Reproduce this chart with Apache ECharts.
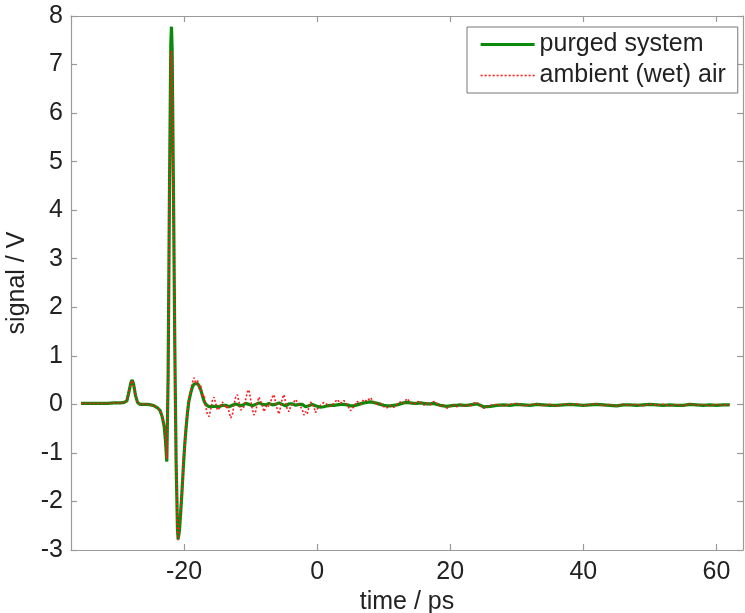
<!DOCTYPE html>
<html>
<head>
<meta charset="utf-8">
<script src="https://cdn.jsdelivr.net/npm/echarts@6/dist/echarts.min.js"></script>
<style>
  html, body { margin: 0; padding: 0; background: #fff; }
  #chart { width: 745px; height: 613px; }
</style>
</head>
<body>
<div id="chart"></div>
<script>
// time axis (ps), non-uniform sampling
const timePs = [
  -35.5, -34.5, -33.5, -32.5, -31.5, -30.5, -29.5, -29.0, -28.6, -28.3,
  -28.0, -27.8, -27.6, -27.3, -27.0, -26.6, -26.0, -25.5, -25.0, -24.5,
  -24.0, -23.6, -23.3, -23.0, -22.8, -22.6, -22.4, -22.2, -22.0, -21.9,
  -21.8, -21.6, -21.4, -21.2, -21.0, -20.9, -20.7, -20.5, -20.3, -20.1,
  -19.9, -19.7, -19.5, -19.3, -19.0,
  -18.75, -18.5, -18.25, -18, -17.75, -17.5, -17.25, -17, -16.75, -16.5,
  -16.25, -16, -15.75, -15.5, -15.25, -15, -14.75, -14.5, -14.25, -14,
  -13.75, -13.5, -13.25, -13, -12.75, -12.5, -12.25, -12, -11.75, -11.5,
  -11.25, -11, -10.75, -10.5, -10.25, -10, -9.75, -9.5, -9.25, -9,
  -8.75, -8.5, -8.25, -8, -7.75, -7.5, -7.25, -7, -6.75, -6.5,
  -6.25, -6, -5.75, -5.5, -5.25, -5, -4.75, -4.5, -4.25, -4,
  -3.75, -3.5, -3.25, -3, -2.75, -2.5, -2.25, -2, -1.75, -1.5,
  -1.25, -1, -0.75, -0.5, -0.25, 0,
  0.5, 1, 1.5, 2, 2.5, 3, 3.5, 4, 4.5, 5,
  5.5, 6, 6.5, 7, 7.5, 8, 8.5, 9, 9.5, 10,
  10.5, 11, 11.5, 12, 12.5, 13, 13.5, 14, 14.5, 15,
  15.5, 16, 16.5, 17, 17.5, 18, 18.5, 19, 19.5, 20,
  20.5, 21, 21.5, 22, 22.5, 23, 23.5, 24, 24.5, 25,
  26, 27, 28, 29, 30, 31, 32, 33, 34, 35,
  36, 37, 38, 39, 40, 41, 42, 43, 44, 45,
  46, 47, 48, 49, 50, 51, 52, 53, 54, 55,
  56, 57, 58, 59, 60, 61, 62
];

// purged system signal (V)
const purgedSignal = [
  0.02, 0.02, 0.02, 0.02, 0.02, 0.03, 0.03, 0.04, 0.07, 0.25,
  0.45, 0.50, 0.42, 0.18, 0.04, 0.00, 0.00, 0.00, -0.01, -0.03,
  -0.07, -0.13, -0.25, -0.45, -0.75, -1.18, 0.6, 4.4, 7.4, 7.78,
  7.3, 4.4, 1.2, -1.2, -2.55, -2.78, -2.6, -2.2, -1.75, -1.25,
  -0.82, -0.48, -0.18, 0.05, 0.24,
  0.36, 0.42, 0.44, 0.43, 0.38, 0.30, 0.18, 0.07, 0.00, -0.04,
  -0.05, -0.05, -0.04, -0.03, -0.04, -0.05, -0.05, -0.04, -0.02, -0.01,
  -0.02, -0.04, -0.05, -0.04, -0.02, 0.00, 0.01, 0.00, -0.02, -0.03,
  -0.02, 0.00, 0.02, 0.02, 0.00, -0.02, -0.03, -0.02, 0.00, 0.02,
  0.03, 0.02, 0.00, -0.02, -0.01, 0.01, 0.02, 0.01, -0.01, -0.02,
  0.00, 0.02, 0.03, 0.02, 0.00, -0.02, -0.03, -0.01, 0.01, 0.02,
  0.01, -0.01, -0.02, -0.01, 0.00, 0.01, 0.00, -0.03, -0.05, -0.05,
  -0.03, -0.01, 0.00, -0.01, -0.03, -0.05,
  -0.06, -0.05, -0.03, -0.02, -0.02, -0.01, 0.00, 0.00, -0.01, -0.03,
  -0.03, -0.01, 0.01, 0.03, 0.04, 0.05, 0.04, 0.02, 0.00, -0.02,
  -0.03, -0.03, -0.02, -0.01, 0.01, 0.03, 0.04, 0.03, 0.02, 0.02,
  0.03, 0.02, 0.01, 0.01, 0.02, 0.00, -0.02, -0.03, -0.04, -0.03,
  -0.02, -0.02, -0.01, -0.02, -0.02, -0.01, 0.00, 0.01, -0.02, -0.05,
  -0.04, -0.02, -0.01, -0.02, 0.00, -0.01, -0.02, 0.00, -0.01, -0.02,
  -0.02, -0.01, 0.00, -0.01, -0.02, -0.01, 0.00, -0.01, -0.02, -0.03,
  -0.01, -0.01, -0.02, -0.01, 0.00, -0.01, -0.02, -0.01, -0.02, -0.02,
  0.00, -0.01, -0.02, -0.01, -0.02, -0.01, -0.01
];

// ambient (wet) air signal (V)
const ambientSignal = [
  0.02, 0.02, 0.02, 0.02, 0.02, 0.03, 0.03, 0.04, 0.07, 0.24,
  0.44, 0.49, 0.41, 0.18, 0.04, 0.00, 0.01, 0.00, -0.01, -0.03,
  -0.07, -0.13, -0.25, -0.44, -0.72, -1.12, 0.5, 4.1, 6.9, 7.28,
  6.9, 4.2, 1.1, -1.25, -2.6, -2.8, -2.5, -2.0, -1.8, -1.1,
  -0.9, -0.35, -0.2, 0.12, 0.3,
  0.45, 0.55, 0.42, 0.50, 0.32, 0.38, 0.15, 0.20, -0.05, -0.20,
  -0.25, -0.10, 0.08, 0.15, 0.02, -0.12, -0.15, -0.05, 0.05, 0.02,
  -0.08, -0.02, -0.15, -0.28, -0.22, 0.00, 0.15, 0.20, 0.05, -0.12,
  -0.15, -0.05, 0.10, 0.25, 0.30, 0.10, -0.10, -0.22, -0.15, 0.02,
  0.15, 0.12, -0.02, -0.15, -0.12, 0.00, -0.05, 0.05, 0.15, 0.20,
  0.05, -0.10, -0.20, -0.05, 0.12, 0.20, 0.05, -0.10, -0.15, -0.05,
  0.00, 0.05, 0.10, 0.08, 0.00, -0.05, -0.10, -0.22, -0.15, -0.20,
  -0.05, 0.05, 0.09, -0.05, -0.17, -0.10,
  -0.02, 0.04, 0.00, -0.04, 0.02, 0.10, 0.02, 0.08, 0.00, -0.13,
  -0.05, 0.06, 0.00, 0.10, 0.06, 0.14, 0.05, 0.00, 0.02, -0.05,
  -0.07, -0.02, -0.06, 0.00, 0.05, 0.02, 0.12, 0.04, 0.00, 0.05,
  0.06, -0.02, 0.03, -0.01, 0.06, 0.02, -0.04, -0.02, -0.08, -0.04,
  -0.01, -0.05, 0.00, -0.04, -0.01, -0.04, 0.02, 0.04, -0.02, -0.08,
  -0.02, 0.00, -0.03, 0.00, 0.02, -0.03, -0.01, 0.01, -0.03, 0.00,
  -0.04, 0.01, -0.01, 0.01, -0.03, 0.00, 0.01, -0.03, 0.00, -0.04,
  0.00, -0.02, 0.00, -0.03, 0.01, -0.02, 0.00, -0.03, 0.00, -0.03,
  0.01, -0.02, 0.00, -0.03, 0.00, -0.02, 0.00
];

const xTickValues = [-20, 0, 20, 40, 60];
const seriesNames = ['purged system', 'ambient (wet) air'];

const FONT = 'Liberation Sans, Arial, sans-serif';
const AXIS_COLOR = '#9a9a9a';
const TEXT_COLOR = '#222';
const GREEN = '#0a8a0a';
const RED = '#ff1a1a';

const chart = echarts.init(document.getElementById('chart'), null, { renderer: 'canvas' });

const pairs = (ys) => timePs.map((t, i) => [t, ys[i]]);

const xCommon = {
  type: 'value', min: -37, max: 64,
  splitLine: { show: false },
  axisLine: { onZero: false, lineStyle: { color: AXIS_COLOR, width: 1.2 } },
  axisTick: { inside: true, length: 6, customValues: xTickValues, lineStyle: { color: AXIS_COLOR, width: 1.2 } }
};
const yCommon = {
  type: 'value', min: -3, max: 8, interval: 1,
  splitLine: { show: false },
  axisLine: { onZero: false, lineStyle: { color: AXIS_COLOR, width: 1.2 } },
  axisTick: { inside: true, length: 6, lineStyle: { color: AXIS_COLOR, width: 1.2 } }
};

chart.setOption({
  animation: false,
  backgroundColor: '#fff',
  grid: { left: 71, top: 16, right: 2, bottom: 63, containLabel: false, outerBoundsMode: 'none' },
  legend: {
    orient: 'vertical',
    left: 467, top: 27,
    width: 271,
    padding: [5, 12, 5, 12],
    itemGap: 6,
    itemWidth: 54, itemHeight: 14,
    backgroundColor: '#fff',
    borderColor: '#777', borderWidth: 1,
    textStyle: { fontSize: 25, color: TEXT_COLOR, fontFamily: FONT },
    data: [
      { name: seriesNames[0], itemStyle: { opacity: 0 }, lineStyle: { color: GREEN, width: 3.2 } },
      { name: seriesNames[1], itemStyle: { opacity: 0 }, lineStyle: { color: RED, width: 1.6, type: [2, 2] } }
    ]
  },
  xAxis: [
    Object.assign({}, xCommon, {
      position: 'bottom',
      axisLabel: { customValues: xTickValues, fontSize: 25, color: TEXT_COLOR, fontFamily: FONT, margin: 10 },
      name: 'time / ps', nameLocation: 'middle', nameGap: 37,
      nameTextStyle: { fontSize: 25, color: TEXT_COLOR, fontFamily: FONT }
    }),
    Object.assign({}, xCommon, { position: 'top', axisLabel: { show: false } })
  ],
  yAxis: [
    Object.assign({}, yCommon, {
      position: 'left',
      axisLabel: { fontSize: 25, color: TEXT_COLOR, fontFamily: FONT, margin: 8 },
      name: 'signal / V', nameLocation: 'middle', nameGap: 34, nameRotate: 90,
      nameTextStyle: { fontSize: 25, color: TEXT_COLOR, fontFamily: FONT }
    }),
    Object.assign({}, yCommon, { position: 'right', axisLabel: { show: false } })
  ],
  series: [
    {
      name: seriesNames[0], type: 'line', xAxisIndex: 0, yAxisIndex: 0,
      data: pairs(purgedSignal), showSymbol: false, symbol: 'none',
      lineStyle: { color: GREEN, width: 3.2 }, itemStyle: { color: GREEN }, z: 2
    },
    {
      name: seriesNames[1], type: 'line', xAxisIndex: 0, yAxisIndex: 0,
      data: pairs(ambientSignal), showSymbol: false, symbol: 'none',
      lineStyle: { color: RED, width: 1.6, type: [2, 2] }, itemStyle: { color: RED }, z: 3
    }
  ]
});
</script>
</body>
</html>
